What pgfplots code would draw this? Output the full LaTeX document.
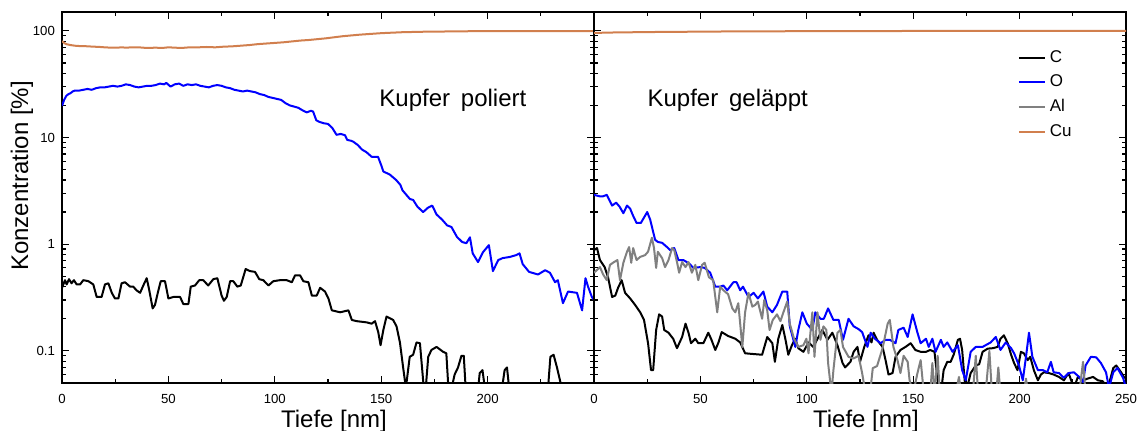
\documentclass[border=0pt]{standalone}
\usepackage{fontspec}
\setmainfont{Liberation Sans}
\usepackage{pgfplots}
\pgfplotsset{compat=1.18}
\definecolor{cucol}{RGB}{209,127,78}
\definecolor{alcol}{RGB}{128,128,128}
\begin{document}
\begin{tikzpicture}
\path[use as bounding box] (-31pt,-23.5pt) rectangle (538pt,191.5pt);
\begin{axis}[
  scale only axis, width=266pt, height=185.5pt,
  xmin=0, xmax=250, ymode=log, ymin=0.05, ymax=150,
  xtick={0,50,100,150,200,250}, minor xtick={25,75,125,175,225},
  ytick={0.1,1,10,100},
  minor ytick={0.05,0.06,0.07,0.08,0.09,0.2,0.3,0.4,0.5,0.6,0.7,0.8,0.9,2,3,4,5,6,7,8,9,20,30,40,50,60,70,80,90},
  tick align=inside, major tick length=3.5pt, minor tick length=2pt,
  axis line style={line width=0.9pt},
  every tick/.style={black, line width=0.6pt},
  tick label style={font=\fontsize{6.6}{7}\selectfont},
  xticklabel style={yshift=-2pt},
  /pgf/number format/assume math mode=true,
  label style={font=\fontsize{12}{14}\selectfont},
  xlabel={Tiefe [nm]},
  xlabel style={at={(axis description cs:0.5,0)}, anchor=north, yshift=-13.5pt, xshift=3pt, inner sep=0pt},
  every axis plot/.append style={line width=1pt, line join=round},
  xticklabels={0,50,100,150,200,},
  yticklabels={0.1,1,10,100},
  ylabel={Konzentration [\%]},
  ylabel style={at={(axis description cs:-0.0752,0.558)}, anchor=center},
]
\addplot[black] coordinates {
(0,0.39) (1.4,0.46) (2.2,0.42) (3.3,0.47) (4.5,0.43) (5.6,0.46) (6.9,0.42) (8.5,0.42) (10,0.46) (12.4,0.45) (14.7,0.42) (16.3,0.32) (18.6,0.32) (20.2,0.42) (21.8,0.43) (23.4,0.35) (24.9,0.31) (26.5,0.31) (28,0.43) (29.6,0.44) (32,0.40) (33.5,0.40) (35,0.37) (36.7,0.35) (38.2,0.41) (39.8,0.48) (40.9,0.38) (42.6,0.25) (43.7,0.27) (45.3,0.37) (46.4,0.45) (48.4,0.45) (50,0.31) (52.3,0.32) (55.5,0.32) (57,0.275) (59.4,0.275) (60.5,0.40) (62.5,0.41) (64.5,0.46) (66.4,0.46) (68.7,0.41) (71.1,0.47) (73,0.48) (75,0.33) (76.1,0.295) (77.4,0.32) (79,0.45) (80.5,0.45) (82.4,0.40) (84,0.41) (86.3,0.585) (88.3,0.56) (90.7,0.55) (92.7,0.47) (94.6,0.46) (97,0.41) (99.3,0.45) (102.4,0.46) (105.6,0.46) (108,0.44) (109.5,0.51) (111.9,0.51) (113.4,0.45) (115.8,0.44) (117.4,0.33) (119.7,0.33) (121.3,0.39) (123.6,0.36) (125.2,0.31) (126.8,0.24) (130.7,0.23) (134.6,0.24) (136.2,0.195) (138.5,0.19) (143.2,0.185) (145.5,0.18) (147.1,0.19) (148.6,0.15) (149.7,0.113) (151,0.157) (152.5,0.21) (155.6,0.195) (157.2,0.17) (158.8,0.12) (160.3,0.07) (161.6,0.045) (163.4,0.088) (165,0.092) (166.6,0.12) (168.2,0.118) (169.7,0.053) (170.5,0.035) (172.1,0.088) (173.6,0.102) (176,0.109) (179.1,0.098) (180.6,0.095) (181.9,0.035) (184.5,0.06) (186.1,0.07) (187.7,0.09) (188.8,0.09) (190,0.035) (195,0.035) (196.3,0.062) (197.6,0.066) (199.4,0.035) (206,0.035) (208,0.066) (209.1,0.07) (210.7,0.035) (228,0.035) (229.5,0.088) (231,0.092) (232.6,0.07) (234.2,0.051) (235,0.035) (250,0.035)
};
\addplot[blue] coordinates {
(0,19.8) (0.5,21) (1,22.5) (2,24.5) (3,25.5) (4,26) (5,27) (6,27.5) (8,27.5) (10,28) (12,28.5) (14,28) (16,29) (18,29.5) (20,29.5) (22,30) (24,30.5) (26,30) (28,30.5) (30,31.5) (32,31) (34,30) (36,29.5) (38,30) (40,30.5) (42,30.5) (44,31) (46,32) (48,31.5) (49,32.5) (51,30) (53,31.5) (55,32) (57,30.5) (59,31.5) (61,31) (63,31.5) (65,30.5) (67,30) (69,29.5) (71,30.5) (73,31) (75,30.5) (77,29.5) (79,29) (81,28) (83,27.5) (85,27) (87,27.5) (89,27) (91,26.5) (93,25.5) (95,25) (97,24) (99,23.5) (101,23) (103,22.5) (105,21) (107,20) (109,19.5) (111,19) (113,18) (115,17.2) (117,17.8) (118,17.5) (119.5,14.5) (121,14) (123,13.6) (125,13.4) (127,12.3) (129,10.6) (131,10.8) (133,10.5) (134,9.5) (136,9.3) (137,9.1) (139,8.5) (141,7.7) (143,7.3) (145.5,6.6) (148.5,6.6) (150,5.5) (151,4.8) (154,4.5) (157,4.0) (159,3.6) (160,3.2) (163.5,2.65) (165,2.6) (167,2.25) (169.7,2.0) (172,2.2) (174,2.3) (176,1.9) (178.6,1.7) (181,1.5) (183,1.45) (185.6,1.17) (188,1.05) (190,1.02) (191.7,1.16) (193,0.82) (195.5,0.68) (197.8,0.84) (200.6,0.98) (202.5,0.56) (205,0.71) (207,0.74) (210.5,0.76) (213.4,0.79) (215,0.82) (216.5,0.65) (219.5,0.55) (223.7,0.52) (227,0.57) (229.3,0.54) (231.7,0.44) (233,0.46) (235.4,0.28) (237.8,0.36) (242,0.35) (244.4,0.24) (246,0.48) (247.2,0.40) (249,0.32) (250,0.30)
};
\addplot[cucol] coordinates {
(0,80) (1,77) (2,75) (4,73.5) (6,72.5) (8,72) (10,72) (12,71.5) (15,71) (18,70.5) (20,70) (23,69.5) (26,69.5) (28,70) (30,69.5) (33,70) (36,70) (40,69) (44,69.5) (47,69) (50,70) (53,69.5) (56,69) (60,70) (64,70) (68,70.5) (72,70) (76,71) (80,71.5) (84,72.5) (88,73.5) (92,75) (96,76) (100,77) (104,78) (108,79.5) (112,81) (116,82) (120,83.5) (124,85) (128,87) (132,89) (136,90.5) (140,92) (145,93.5) (150,95) (155,96) (160,97) (170,98) (180,98.5) (190,99) (200,99.3) (220,99.5) (250,99.5)
};
\node[anchor=base west, inner sep=0pt, font=\fontsize{12}{14}\selectfont] at (axis cs:149,19.4) {Kupfer\hspace{0.45em}poliert};
\end{axis}
\begin{axis}[at={(266pt,0pt)},
  scale only axis, width=266pt, height=185.5pt,
  xmin=0, xmax=250, ymode=log, ymin=0.05, ymax=150,
  xtick={0,50,100,150,200,250}, minor xtick={25,75,125,175,225},
  ytick={0.1,1,10,100},
  minor ytick={0.05,0.06,0.07,0.08,0.09,0.2,0.3,0.4,0.5,0.6,0.7,0.8,0.9,2,3,4,5,6,7,8,9,20,30,40,50,60,70,80,90},
  tick align=inside, major tick length=3.5pt, minor tick length=2pt,
  axis line style={line width=0.9pt},
  every tick/.style={black, line width=0.6pt},
  tick label style={font=\fontsize{6.6}{7}\selectfont},
  xticklabel style={yshift=-2pt},
  /pgf/number format/assume math mode=true,
  label style={font=\fontsize{12}{14}\selectfont},
  xlabel={Tiefe [nm]},
  xlabel style={at={(axis description cs:0.5,0)}, anchor=north, yshift=-13.5pt, xshift=3pt, inner sep=0pt},
  every axis plot/.append style={line width=1pt, line join=round},
  xticklabels={0,50,100,150,200,250},
  yticklabels={},
  legend style={draw=none, fill=none, at={(rel axis cs:0.796,0.908)}, anchor=north west,
    font=\fontsize{8.5}{9}\selectfont, row sep=0.8pt, inner sep=0pt},
  legend cell align=left,
  legend image code/.code={\draw[#1] (0pt,0pt) -- (13pt,0pt);},
]
\addplot[black] coordinates {
(0,0.88) (1.4,0.92) (2.8,0.71) (5,0.61) (6.6,0.49) (8.5,0.32) (10,0.33) (11.3,0.39) (13,0.46) (14.6,0.35) (17,0.31) (19.3,0.27) (21.7,0.23) (23.5,0.195) (25.4,0.118) (26.8,0.066) (27.8,0.066) (29.2,0.157) (30.6,0.22) (32,0.21) (33,0.157) (35,0.148) (37.2,0.13) (39,0.106) (41.4,0.135) (43,0.18) (44.4,0.148) (45.6,0.118) (47.6,0.13) (49,0.118) (51.4,0.118) (53.7,0.148) (55,0.13) (57,0.102) (58.5,0.12) (60,0.15) (63,0.138) (66.4,0.13) (68.7,0.12) (71,0.095) (73.4,0.094) (79,0.092) (81.4,0.135) (83.8,0.118) (85,0.079) (86.6,0.13) (88.5,0.175) (90,0.127) (91.3,0.092) (93,0.113) (94.6,0.13) (96,0.106) (98.4,0.098) (100.8,0.12) (103,0.109) (105.5,0.135) (107.3,0.157) (109.7,0.127) (112,0.148) (114.4,0.113) (116.8,0.077) (118,0.07) (120.5,0.079) (122,0.098) (123.8,0.109) (125,0.079) (127,0.109) (129,0.14) (130.4,0.12) (131.4,0.148) (133,0.127) (135.6,0.109) (137,0.082) (138.4,0.06) (140.3,0.062) (141.7,0.088) (144,0.102) (146.4,0.109) (148.8,0.118) (151,0.102) (153.5,0.098) (156,0.098) (158,0.102) (160,0.098) (161.5,0.053) (163,0.04) (164.3,0.066) (166,0.079) (167.6,0.079) (169,0.092) (171,0.127) (172,0.13) (173,0.102) (174.7,0.04) (177,0.062) (179.4,0.073) (181,0.075) (182.6,0.098) (185,0.105) (187.4,0.106) (189.7,0.109) (191,0.13) (192.6,0.14) (194.4,0.118) (196,0.092) (197.4,0.077) (199,0.066) (200.6,0.098) (202,0.095) (203.8,0.082) (205,0.088) (206.7,0.066) (208.6,0.053) (210,0.06) (211.4,0.063) (213.7,0.062) (216,0.06) (218.5,0.057) (220.8,0.053) (223,0.062) (225.5,0.045) (227.4,0.057) (229.8,0.053) (232,0.055) (234.5,0.057) (236.8,0.053) (239,0.052) (241.5,0.045) (244,0.069) (245.4,0.073) (247.7,0.063) (249,0.057) (250,0.055)
};
\addlegendentry{C}
\addplot[blue] coordinates {
(0,2.9) (3,2.8) (4,2.8) (6,2.9) (8.5,2.3) (10.4,2.45) (12,2.25) (13.8,1.95) (15.5,2.3) (17,2.15) (18.2,1.88) (20,1.58) (22,1.58) (25,2.0) (26.4,1.7) (28.7,1.1) (30,1.05) (32,1.03) (34.3,0.94) (35.8,0.88) (37.7,0.92) (39.7,0.71) (42,0.71) (43.6,0.68) (45,0.65) (46.7,0.60) (50,0.61) (52,0.60) (54.6,0.54) (57,0.40) (59.3,0.40) (60.8,0.41) (62.6,0.37) (65.5,0.44) (67,0.44) (68.7,0.37) (70,0.40) (72.6,0.32) (75,0.35) (77,0.31) (79.6,0.36) (81.4,0.26) (83.8,0.23) (86,0.27) (88.5,0.36) (90.8,0.36) (92,0.17) (94.6,0.109) (96,0.157) (97.9,0.23) (100,0.18) (102.6,0.157) (104,0.23) (106.4,0.20) (108,0.20) (110,0.25) (112.5,0.195) (115,0.195) (117,0.127) (119.6,0.20) (122,0.17) (124.3,0.16) (126,0.15) (128.5,0.109) (130,0.148) (132,0.13) (134.7,0.118) (137,0.127) (139,0.127) (141.7,0.118) (143,0.157) (145.5,0.165) (147.4,0.135) (149.7,0.22) (152,0.148) (153.5,0.118) (156,0.13) (157.3,0.109) (159,0.13) (160.5,0.098) (163,0.127) (164.3,0.109) (166,0.12) (168.5,0.098) (171,0.113) (173,0.066) (174.7,0.053) (177,0.098) (179.4,0.109) (182.6,0.109) (184,0.113) (186.4,0.12) (188.8,0.135) (191,0.102) (193.5,0.12) (196,0.106) (197.4,0.095) (199.7,0.073) (201.5,0.053) (203,0.088) (204.4,0.148) (206,0.088) (208.6,0.066) (211,0.066) (213,0.063) (214.7,0.079) (216,0.063) (218.5,0.062) (220.8,0.056) (223,0.062) (225.5,0.063) (228,0.057) (229.8,0.051) (231,0.073) (233.5,0.088) (236,0.087) (238.2,0.077) (240.6,0.063) (242,0.045) (244,0.063) (246,0.069) (248.6,0.056) (250,0.045)
};
\addlegendentry{O}
\addplot[alcol] coordinates {
(0,0.54) (2.8,0.61) (4.3,0.52) (6,0.46) (7.5,0.64) (9.4,0.68) (11,0.71) (12.2,0.46) (13.8,0.67) (15.5,0.85) (16.5,0.94) (17.5,0.67) (18.4,0.92) (20,0.71) (21.7,0.76) (24,0.79) (25.4,0.85) (27.2,1.15) (28.2,0.92) (29.2,0.60) (30,0.85) (32,0.74) (33.4,0.61) (35,0.71) (36.7,0.92) (37.7,0.88) (39,0.68) (40,0.54) (41.4,0.68) (43,0.61) (44.4,0.68) (46,0.54) (47.6,0.64) (49,0.46) (50.8,0.64) (52,0.67) (54,0.49) (56,0.46) (57.9,0.23) (59.3,0.40) (60.8,0.37) (63,0.34) (65,0.25) (66.4,0.23) (67.8,0.28) (69.7,0.109) (71,0.23) (72.6,0.35) (74.4,0.26) (75.8,0.27) (77,0.29) (79,0.20) (80,0.30) (81.4,0.24) (82.5,0.157) (84,0.195) (86,0.22) (87.6,0.19) (89,0.23) (90.8,0.29) (92,0.18) (94,0.13) (96,0.109) (98.4,0.113) (99.8,0.13) (100.8,0.095) (102.6,0.23) (103.6,0.088) (105,0.23) (106.4,0.127) (107.8,0.17) (109.2,0.157) (110,0.077) (111.6,0.04) (112.5,0.066) (114.4,0.148) (115.8,0.157) (117,0.109) (119.6,0.088) (122,0.085) (124.3,0.09) (126,0.062) (127.6,0.04) (130,0.045) (131,0.069) (133,0.072) (135.6,0.106) (138,0.18) (139,0.195) (140.7,0.109) (142.6,0.082) (144,0.062) (145.5,0.09) (147.4,0.079) (148.3,0.053) (150,0.04) (152,0.062) (153.5,0.082) (155,0.04) (158,0.04) (159,0.077) (160,0.04) (161.5,0.09) (162.5,0.04) (170,0.04) (171.5,0.057) (172.5,0.04) (178,0.04) (179.4,0.09) (180.5,0.04) (184,0.04) (185.8,0.1) (187,0.04) (189,0.04) (190,0.07) (191,0.04) (202,0.04) (203,0.055) (204,0.04) (228,0.04) (229.8,0.079) (231,0.04) (250,0.04)
};
\addlegendentry{Al}
\addplot[cucol] coordinates {
(0,95.5) (10,96.5) (30,97.5) (60,98.5) (100,99.2) (150,99.6) (200,99.8) (250,100)
};
\addlegendentry{Cu}
\node[anchor=base west, inner sep=0pt, font=\fontsize{12}{14}\selectfont] at (axis cs:25,19.4) {Kupfer\hspace{0.45em}geläppt};
\end{axis}
\end{tikzpicture}
\end{document}
